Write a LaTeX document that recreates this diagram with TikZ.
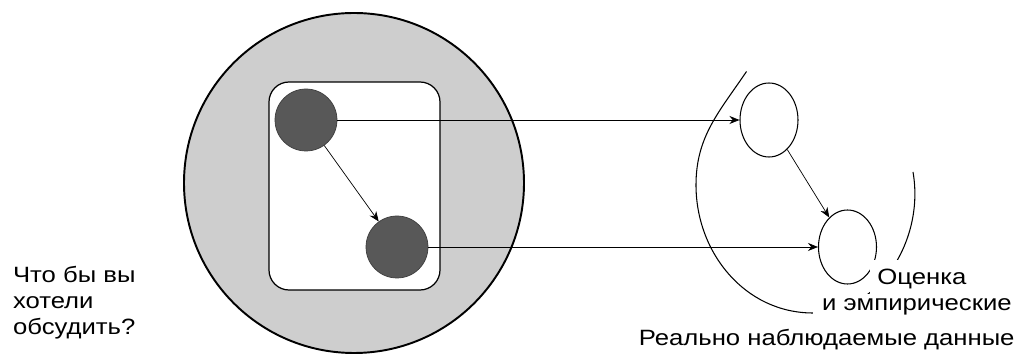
\documentclass[tikz,border=0pt]{standalone}
\usepackage{fontspec}
\newfontfamily\labelfont[FakeStretch=1.16]{Liberation Sans}
\usetikzlibrary{arrows.meta, shapes.geometric}
\definecolor{ringgray}{RGB}{206,206,206}
\definecolor{dotgray}{RGB}{88,88,88}

\begin{document}
\begin{tikzpicture}[
    dot/.style={circle, draw=dotgray!70!black, fill=dotgray, minimum size=1.24cm, inner sep=0pt},
    oval/.style={ellipse, draw, line width=0.6pt, fill=white, minimum width=1.16cm, minimum height=1.48cm, inner sep=0pt},
    arrow/.style={-{Stealth[length=2mm, width=1.6mm]}, thin},
    txt/.style={font=\labelfont\fontsize{12.6}{14.7}\selectfont, inner xsep=2pt, inner ysep=3pt}
  ]
  \useasboundingbox (0,0) rectangle (20.48,7.1);

  % left: what is discussed
  \node[circle, draw, line width=1.1pt, fill=ringgray, minimum size=6.8cm] (ring) at (7.08,3.44) {};
  \node[draw, line width=0.7pt, fill=white, rounded corners=0.4cm, minimum width=3.42cm, minimum height=4.16cm] (frame) at (7.09,3.38) {};
  \node[dot] (latent) at (6.12,4.70) {};
  \node[dot] (observed) at (7.94,2.16) {};
  \draw[arrow] (latent) -- (observed);

  % right: estimates
  \draw[line width=0.6pt] (14.93,5.67) to[out=236,in=90] (13.92,3.40) to[out=270,in=180] (16.26,0.84)
    to[out=0,in=-80] (18.26,3.66);
  \node[oval] (estA) at (15.38,4.70) {};
  \node[oval] (estB) at (16.95,2.16) {};
  \draw[arrow] (estA) -- (estB);

  \draw[arrow] (latent) -- (estA);
  \draw[arrow] (observed) -- (estB);

  \node[txt, anchor=north west, align=left, inner sep=0pt] (ask) at (0.254,1.778)
    {Что бы вы\\хотели\\обсудить?};
  \node[txt, anchor=base west, fill=white] (obs) at (12.70,0.19) {Реально наблюдаемые данные};
  \node[txt, anchor=base west, fill=white, inner xsep=5pt] (emp) at (16.26,0.88) {и эмпирические};
  \node[txt, anchor=base west, fill=white, inner xsep=4pt, inner ysep=5pt] (est) at (17.40,1.41) {Оценка};
\end{tikzpicture}
\end{document}
